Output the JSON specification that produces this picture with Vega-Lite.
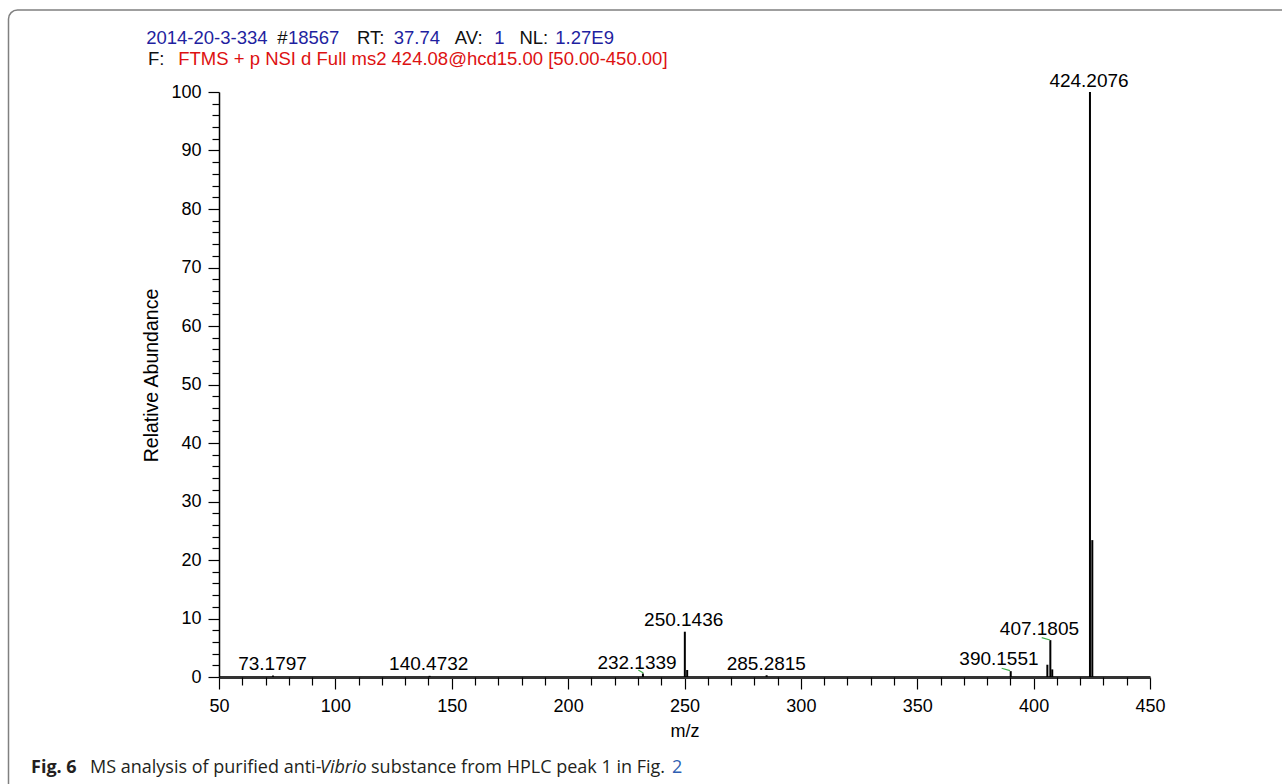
{
  "$schema": "https://vega.github.io/schema/vega-lite/v6.json",
  "width": 931,
  "height": 585,
  "autosize": {"type": "none"},
  "padding": {"left": 219, "top": 92, "right": 132, "bottom": 107},
  "background": "white",
  "config": {
    "view": {"stroke": null},
    "font": "Liberation Sans",
    "axis": {
      "labelFont": "Liberation Sans",
      "titleFont": "Liberation Sans",
      "labelFontSize": 18,
      "titleFontSize": 18,
      "titleFontWeight": "normal",
      "labelColor": "black",
      "titleColor": "black",
      "tickColor": "black",
      "domainColor": "black",
      "grid": false
    }
  },
  "datasets": {
    "peaks": [
      {"mz": 73.1797, "ab": 0.25},
      {"mz": 140.4732, "ab": 0.2},
      {"mz": 232.1339, "ab": 0.6},
      {"mz": 250.1436, "ab": 7.74},
      {"mz": 251.147, "ab": 1.2},
      {"mz": 285.2815, "ab": 0.3},
      {"mz": 390.1551, "ab": 1.0},
      {"mz": 405.9, "ab": 2.1},
      {"mz": 407.1805, "ab": 6.3},
      {"mz": 408.0, "ab": 1.3},
      {"mz": 424.2076, "ab": 100},
      {"mz": 425.21, "ab": 23.4}
    ],
    "labels": [
      {"text": "424.2076", "lx": 423.8, "ly": 100.9},
      {"text": "250.1436", "lx": 249.65, "ly": 8.72},
      {"text": "407.1805", "lx": 402.5, "ly": 7.18},
      {"text": "390.1551", "lx": 385.1, "ly": 2.05},
      {"text": "232.1339", "lx": 229.6, "ly": 1.32},
      {"text": "285.2815", "lx": 285.15, "ly": 1.2},
      {"text": "73.1797", "lx": 72.99, "ly": 1.2},
      {"text": "140.4732", "lx": 140.1, "ly": 1.2}
    ],
    "leaders": [
      {"x1": 403.47, "x2": 407.04, "y1": 6.72, "y2": 6.32},
      {"x1": 386.28, "x2": 389.85, "y1": 1.49, "y2": 1.08},
      {"x1": 230.15, "x2": 232.3, "y1": 1.2, "y2": 0.68}
    ],
    "header": [
      {"text": "2014-20-3-334", "kind": "value", "mz": 18.72, "ab": 108.21},
      {"text": "#", "kind": "key", "mz": 75.0, "ab": 108.21},
      {"text": "18567", "kind": "value", "mz": 79.6, "ab": 108.21},
      {"text": "RT:", "kind": "key", "mz": 109.25, "ab": 108.21},
      {"text": "37.74", "kind": "value", "mz": 125.1, "ab": 108.21},
      {"text": "AV:", "kind": "key", "mz": 151.3, "ab": 108.21},
      {"text": "1", "kind": "value", "mz": 168.28, "ab": 108.21},
      {"text": "NL:", "kind": "key", "mz": 179.07, "ab": 108.21},
      {"text": "1.27E9", "kind": "value", "mz": 194.49, "ab": 108.21},
      {"text": "F:", "kind": "key", "mz": 19.5, "ab": 104.62},
      {"text": "FTMS + p NSI d Full ms2 424.08@hcd15.00 [50.00-450.00]", "kind": "filter", "mz": 32.5, "ab": 104.62}
    ],
    "caption": [
      {"text": "Fig. 6", "part": "label", "mz": -30.77, "ab": -16.41},
      {"text": "MS analysis of purified anti-", "part": "body", "mz": -5.42, "ab": -16.41},
      {"text": "Vibrio", "part": "species", "mz": 93.39, "ab": -16.41},
      {"text": "substance from HPLC peak 1 in Fig.", "part": "body", "mz": 115.31, "ab": -16.41},
      {"text": "2", "part": "ref", "mz": 244.6, "ab": -16.41}
    ],
    "frame": [
      {"x1": -40.44, "x2": 514.4, "y1": 114.02, "y2": -21.03}
    ]
  },
  "resolve": {"axis": {"x": "independent", "y": "independent"}},
  "layer": [
    {
      "data": {"name": "frame"},
      "mark": {"type": "rect", "fill": null, "fillOpacity": 0, "stroke": "#808080", "strokeWidth": 1.5, "cornerRadius": 9, "clip": false},
      "encoding": {
        "x": {"field": "x1", "type": "quantitative", "scale": {"domain": [50, 450], "nice": false, "zero": false}, "axis": null},
        "x2": {"field": "x2"},
        "y": {"field": "y1", "type": "quantitative", "scale": {"domain": [0, 100], "nice": false}, "axis": null},
        "y2": {"field": "y2"}
      }
    },
    {
      "data": {"name": "peaks"},
      "mark": {"type": "rule", "color": "black", "strokeWidth": 2},
      "encoding": {
        "x": {"field": "mz", "type": "quantitative", "scale": {"domain": [50, 450], "nice": false, "zero": false},
          "axis": {"orient": "bottom", "values": [50, 100, 150, 200, 250, 300, 350, 400, 450], "tickSize": 12, "tickWidth": 1.2, "labelPadding": 8, "title": "m/z", "titlePadding": 7, "domainWidth": 3, "domainColor": "#333333", "labelFlush": false, "labelOverlap": false, "format": "d"}},
        "y": {"field": "ab", "type": "quantitative", "scale": {"domain": [0, 100], "nice": false},
          "axis": {"orient": "left", "values": [0, 10, 20, 30, 40, 50, 60, 70, 80, 90, 100], "tickSize": 11, "tickWidth": 1.2, "labelPadding": 7, "title": "Relative Abundance", "titleFontSize": 19.5, "titleY": 283, "titlePadding": 9, "domainWidth": 1.5, "labelFlush": false, "labelOverlap": false, "format": "d"}},
        "y2": {"datum": 0}
      }
    },
    {
      "data": {"name": "peaks"},
      "mark": {"type": "point", "opacity": 0},
      "encoding": {
        "x": {"field": "mz", "type": "quantitative", "scale": {"domain": [50, 450], "nice": false, "zero": false},
          "axis": {"orient": "bottom", "values": [60, 70, 80, 90, 110, 120, 130, 140, 160, 170, 180, 190, 210, 220, 230, 240, 260, 270, 280, 290, 310, 320, 330, 340, 360, 370, 380, 390, 410, 420, 430, 440], "tickSize": 8, "tickWidth": 1.2, "labels": false, "domain": false, "title": null}},
        "y": {"field": "ab", "type": "quantitative", "scale": {"domain": [0, 100], "nice": false},
          "axis": {"orient": "left", "values": [2, 4, 6, 8, 12, 14, 16, 18, 22, 24, 26, 28, 32, 34, 36, 38, 42, 44, 46, 48, 52, 54, 56, 58, 62, 64, 66, 68, 72, 74, 76, 78, 82, 84, 86, 88, 92, 94, 96, 98], "tickSize": 7, "tickWidth": 1.2, "labels": false, "domain": false, "title": null}}
      }
    },
    {
      "data": {"name": "leaders"},
      "mark": {"type": "rule", "color": "#3fae49", "strokeWidth": 1.2},
      "encoding": {
        "x": {"field": "x1", "type": "quantitative", "scale": {"domain": [50, 450], "nice": false, "zero": false}, "axis": null},
        "x2": {"field": "x2"},
        "y": {"field": "y1", "type": "quantitative", "scale": {"domain": [0, 100], "nice": false}, "axis": null},
        "y2": {"field": "y2"}
      }
    },
    {
      "data": {"name": "labels"},
      "mark": {"type": "text", "font": "Liberation Sans", "fontSize": 19, "align": "center", "baseline": "alphabetic", "color": "black"},
      "encoding": {
        "x": {"field": "lx", "type": "quantitative", "scale": {"domain": [50, 450], "nice": false, "zero": false}, "axis": null},
        "y": {"field": "ly", "type": "quantitative", "scale": {"domain": [0, 100], "nice": false}, "axis": null},
        "text": {"field": "text"}
      }
    },
    {
      "data": {"name": "header"},
      "mark": {"type": "text", "font": "Liberation Sans", "fontSize": 18.5, "align": "left", "baseline": "alphabetic"},
      "encoding": {
        "x": {"field": "mz", "type": "quantitative", "scale": {"domain": [50, 450], "nice": false, "zero": false}, "axis": null},
        "y": {"field": "ab", "type": "quantitative", "scale": {"domain": [0, 100], "nice": false}, "axis": null},
        "text": {"field": "text"},
        "color": {"field": "kind", "type": "nominal", "scale": {"domain": ["key", "value", "filter"], "range": ["#111111", "#1f1fa0", "#dd1111"]}, "legend": null}
      }
    },
    {
      "data": {"name": "caption"},
      "transform": [{"filter": "datum.part === 'label'"}],
      "mark": {"type": "text", "font": "Open Sans", "fontSize": 18, "fontWeight": "bold", "align": "left", "baseline": "alphabetic", "color": "#231f20"},
      "encoding": {
        "x": {"field": "mz", "type": "quantitative", "scale": {"domain": [50, 450], "nice": false, "zero": false}, "axis": null},
        "y": {"field": "ab", "type": "quantitative", "scale": {"domain": [0, 100], "nice": false}, "axis": null},
        "text": {"field": "text"}
      }
    },
    {
      "data": {"name": "caption"},
      "transform": [{"filter": "datum.part === 'body'"}],
      "mark": {"type": "text", "font": "Open Sans", "fontSize": 18, "align": "left", "baseline": "alphabetic", "color": "#231f20"},
      "encoding": {
        "x": {"field": "mz", "type": "quantitative", "scale": {"domain": [50, 450], "nice": false, "zero": false}, "axis": null},
        "y": {"field": "ab", "type": "quantitative", "scale": {"domain": [0, 100], "nice": false}, "axis": null},
        "text": {"field": "text"}
      }
    },
    {
      "data": {"name": "caption"},
      "transform": [{"filter": "datum.part === 'species'"}],
      "mark": {"type": "text", "font": "Open Sans", "fontSize": 18, "fontStyle": "italic", "align": "left", "baseline": "alphabetic", "color": "#231f20"},
      "encoding": {
        "x": {"field": "mz", "type": "quantitative", "scale": {"domain": [50, 450], "nice": false, "zero": false}, "axis": null},
        "y": {"field": "ab", "type": "quantitative", "scale": {"domain": [0, 100], "nice": false}, "axis": null},
        "text": {"field": "text"}
      }
    },
    {
      "data": {"name": "caption"},
      "transform": [{"filter": "datum.part === 'ref'"}],
      "mark": {"type": "text", "font": "Open Sans", "fontSize": 18, "align": "left", "baseline": "alphabetic", "color": "#2f5fb3"},
      "encoding": {
        "x": {"field": "mz", "type": "quantitative", "scale": {"domain": [50, 450], "nice": false, "zero": false}, "axis": null},
        "y": {"field": "ab", "type": "quantitative", "scale": {"domain": [0, 100], "nice": false}, "axis": null},
        "text": {"field": "text"}
      }
    }
  ]
}
